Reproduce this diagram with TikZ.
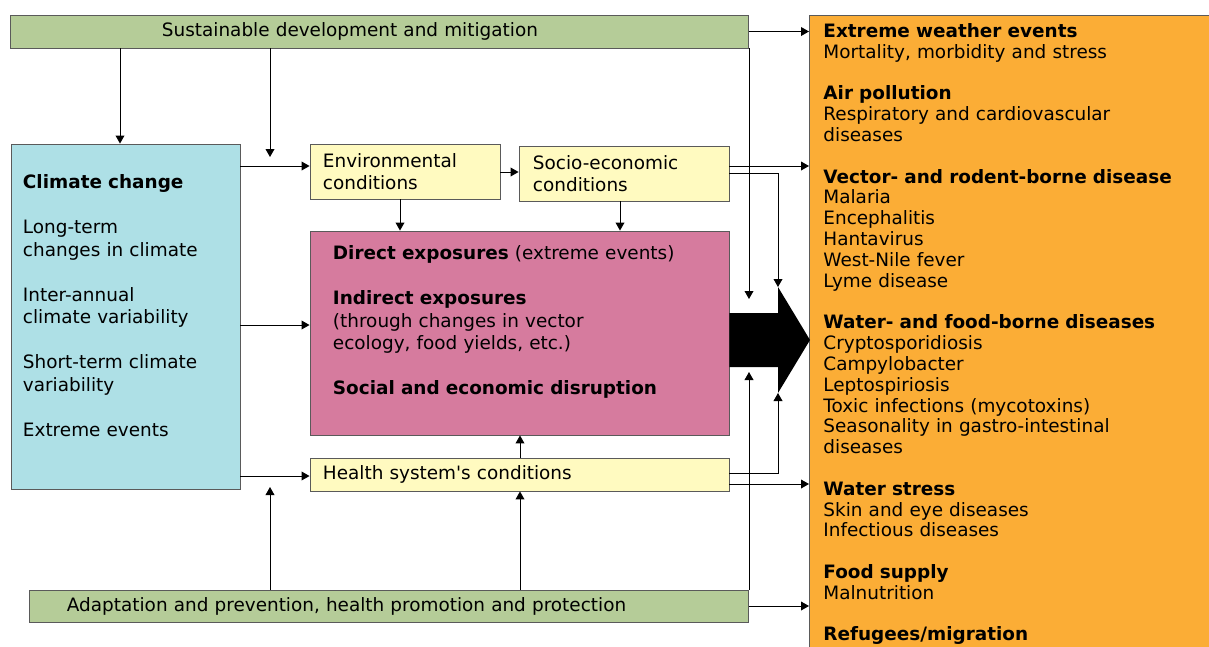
\documentclass[tikz,border=0pt]{standalone}
\usepackage{fontspec}
\setmainfont{DejaVu Sans}
\usetikzlibrary{arrows.meta}
\definecolor{SustGreen}{HTML}{B5CC98}
\definecolor{ClimCyan}{HTML}{AEE0E6}
\definecolor{CondYellow}{HTML}{FFFAC0}
\definecolor{ExpoPink}{HTML}{D67B9E}
\definecolor{HealthOrange}{HTML}{FBAD36}
\definecolor{Edge}{HTML}{5A5A5A}

\begin{document}
\begin{tikzpicture}[x=0.025cm,y=-0.025cm,
  box/.style={draw=Edge,line width=0.6pt,inner ysep=0pt,align=left,font=\fontsize{13.1}{16}\selectfont},
  sustbox/.style={box,fill=SustGreen},
  climbox/.style={box,fill=ClimCyan},
  condbox/.style={box,fill=CondYellow},
  expobox/.style={box,fill=ExpoPink},
  effectbox/.style={box,fill=HealthOrange,inner xsep=0.35cm,inner ysep=0.2cm,text width=9.8cm,font=\fontsize{13.1}{14.8}\selectfont},
  conn/.style={-{Triangle[length=0.2cm,width=0.22cm]},line width=0.7pt}
]
\clip (0,0) rectangle (1209,646);
% boxes
\node[sustbox,minimum height=0.825cm,inner xsep=3.775cm,text width=10.875cm] (sust) at (379.5,31.5) {Sustainable development and mitigation};
\node[climbox,minimum height=8.625cm,inner xsep=0.3cm,text width=5.125cm] (climate) at (125.5,316.5) {\textbf{Climate change}\\[16pt]Long-term\\changes in climate\\[16pt]Inter-annual\\climate variability\\[16pt]Short-term climate\\variability\\[16pt]Extreme events\\[-5pt]\strut};
\node[condbox,minimum height=1.375cm,inner xsep=0.325cm,text width=4.1cm] (env) at (405,171.5) {Environmental\\conditions};
\node[condbox,minimum height=1.375cm,inner xsep=0.35cm,text width=4.55cm] (socio) at (624,173.5) {Socio-economic\\conditions};
\node[expobox,minimum height=5.1cm,inner xsep=0.575cm,text width=9.325cm] (direct) at (519.5,333) {\textbf{Direct exposures} (extreme events)\\[16pt]\textbf{Indirect exposures}\\(through changes in vector\\ecology, food yields, etc.)\\[16pt]\textbf{Social and economic disruption}\\[-3pt]\strut};
\node[condbox,minimum height=0.825cm,inner xsep=0.325cm,text width=9.825cm] (health) at (519.5,474.5) {Health system\textquotesingle s conditions};
\node[sustbox,minimum height=0.8cm,inner xsep=0.925cm,text width=16.1cm] (adapt) at (389,606) {Adaptation and prevention, health promotion and protection};
\node[effectbox,anchor=north west] (orange) at (809,15) {\textbf{Extreme weather events}\\Mortality, morbidity and stress\\[14.8pt]\textbf{Air pollution}\\Respiratory and cardiovascular\\diseases\\[14.8pt]\textbf{Vector- and rodent-borne disease}\\Malaria\\Encephalitis\\Hantavirus\\West-Nile fever\\Lyme disease\\[14.8pt]\textbf{Water- and food-borne diseases}\\Cryptosporidiosis\\Campylobacter\\Leptospiriosis\\Toxic infections (mycotoxins)\\Seasonality in gastro-intestinal\\diseases\\[14.8pt]\textbf{Water stress}\\Skin and eye diseases\\Infectious diseases\\[14.8pt]\textbf{Food supply}\\Malnutrition\\[14.8pt]\textbf{Refugees/migration}};
% big arrow
\coordinate (headtop) at (778,287);
\coordinate (headbot) at (778,393);
\fill (direct.east |- 0,313) -- (778,313) -- (headtop) -- (810,340) -- (headbot) -- (778,367) -- (direct.east |- 0,367) -- cycle;
% free ends
\coordinate (sustend) at (270,157);
\coordinate (sustdrop) at (749,299);
\coordinate (adaptend) at (270,487);
\coordinate (adaptrise) at (749,372);
% connectors
\draw[conn] (sust.east) -- (sust.east -| orange.west);
\draw[conn] (120,0 |- sust.south) -- (120,0 |- climate.north);
\draw[conn] (sustend |- sust.south) -- (sustend);
\draw[conn] (sustdrop |- sust.south) -- (sustdrop);
\draw[conn] (climate.east |- 0,166) -- (env.west |- 0,166);
\draw[conn] (climate.east |- 0,325) -- (direct.west |- 0,325);
\draw[conn] (climate.east |- 0,476) -- (health.west |- 0,476);
\draw[conn] (env.east |- 0,172) -- (socio.west |- 0,172);
\draw[conn] (400,0 |- env.south) -- (400,0 |- direct.north);
\draw[conn] (620,0 |- socio.south) -- (620,0 |- direct.north);
\draw[conn] (socio.east |- 0,166) -- (orange.west |- 0,166);
\draw[conn] (socio.east |- 0,173) -| (headtop);
\draw[conn] (health.east |- 0,473) -| (headbot);
\draw[conn] (health.east |- 0,484) -- (orange.west |- 0,484);
\draw[conn] (520,0 |- health.north) -- (520,0 |- direct.south);
\draw[conn] (520,0 |- adapt.north) -- (520,0 |- health.south);
\draw[conn] (adaptend |- adapt.north) -- (adaptend);
\draw[conn] (adaptrise |- adapt.north) -- (adaptrise);
\draw[conn] (adapt.east) -- (adapt.east -| orange.west);
\end{tikzpicture}
\end{document}
